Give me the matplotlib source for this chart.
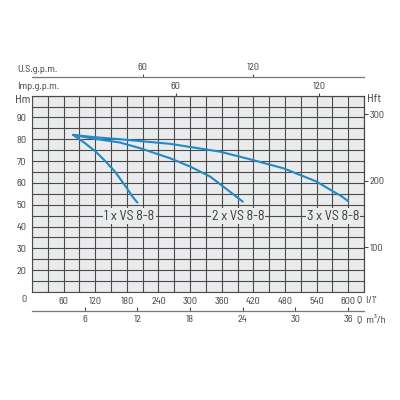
import numpy as np
import matplotlib
matplotlib.use("Agg")
import matplotlib.pyplot as plt

# curve data (Q in l/min, H in m)
q_1x = [78, 100, 120, 139, 157, 177, 192, 200]
h_1x = [82.0, 78.3, 74.5, 70.0, 65.3, 58.6, 53.3, 51.0]
q_2x = [78, 116, 167, 205, 262, 300, 338, 370, 386, 400]
h_2x = [82.0, 80.3, 78.5, 75.9, 71.3, 67.5, 62.9, 57.0, 54.0, 51.4]
q_3x = [78, 116, 167, 262, 357, 414, 477, 540, 572, 588, 600]
h_3x = [82.0, 81.0, 80.0, 77.9, 74.3, 70.8, 66.7, 60.6, 56.0, 53.8, 51.6]
labels = ["1 x VS 8-8", "2 x VS 8-8", "3 x VS 8-8"]
label_q = [185, 391, 571]
label_h = [44.8, 44.8, 44.8]

q_ticks = np.arange(60, 601, 60)
h_ticks = np.arange(20, 91, 10)
ft_ticks = [100, 200, 300]
imp_ticks = [60, 120]
us_ticks = [60, 120]
m3h_ticks = [6, 12, 18, 24, 30, 36]

FT = 3.2808
IMP = 4.546
US = 3.5
M3H = 0.06

blue = "#2389c6"
grid_c = "#4a4a4a"
txt_c = "#3a3a3a"
bg = "#eaebec"
plt.rcParams["font.family"] = ["Barlow Semi Condensed", "DejaVu Sans"]
fs = 7.4

fig = plt.figure(figsize=(4, 4), dpi=100)
ax = fig.add_axes([0.08, 0.27, 0.83, 0.491])
ax.set_facecolor(bg)
ax.set_xlim(0, 630)
ax.set_ylim(10, 100)

ax.set_xticks(q_ticks)
ax.set_xticks(np.arange(0, 631, 30), minor=True)
ax.set_yticks(h_ticks)
ax.set_yticks(np.arange(10, 101, 5), minor=True)
ax.grid(which="both", color=grid_c, lw=0.8)
ax.set_axisbelow(True)
ax.tick_params(which="both", length=0, labelsize=fs, colors=txt_c)
ax.tick_params(axis="x", pad=3.5)
ax.tick_params(axis="y", pad=4)
for s in ax.spines.values():
    s.set_color(grid_c)
    s.set_linewidth(0.8)

for q, h in [(q_1x, h_1x), (q_2x, h_2x), (q_3x, h_3x)]:
    ax.plot(q, h, color=blue, lw=1.5, solid_capstyle="round", solid_joinstyle="round")
for t, q, h in zip(labels, label_q, label_h):
    ax.text(q, h, t, ha="center", va="center", fontsize=10, color=txt_c,
            bbox=dict(facecolor=bg, edgecolor="none", pad=0.8))

# right axis in feet
ax_ft = ax.secondary_yaxis("right", functions=(lambda m: m * FT, lambda f: f / FT))
ax_ft.set_yticks(ft_ticks)
ax_ft.tick_params(length=3, width=0.8, color=grid_c, labelsize=fs, labelcolor=txt_c, pad=1)
ax_ft.spines["right"].set_color(grid_c)

# top axis Imp.g.p.m.
ax_imp = ax.secondary_xaxis("top", functions=(lambda q: q / IMP, lambda g: g * IMP))
ax_imp.set_xticks(imp_ticks)
ax_imp.tick_params(length=2, width=0.8, color=grid_c, labelsize=fs, labelcolor=txt_c, pad=1)
ax_imp.spines["top"].set_color(grid_c)

# top axis U.S.g.p.m.
ax_us = ax.secondary_xaxis(1.097, functions=(lambda q: q / US, lambda g: g * US))
ax_us.set_xticks(us_ticks)
ax_us.tick_params(length=2.5, width=0.8, color=grid_c, labelsize=fs, labelcolor=txt_c, pad=1)
ax_us.spines["top"].set_color("#777777")
ax_us.spines["top"].set_linewidth(0.9)

# bottom axis m3/h
ax_m3 = ax.secondary_xaxis(-0.097, functions=(lambda q: q * M3H, lambda v: v / M3H))
ax_m3.set_xticks(m3h_ticks)
ax_m3.tick_params(direction="in", length=3, width=0.8, color=grid_c, labelsize=fs,
                  labelcolor=txt_c, pad=2.5)
ax_m3.spines["bottom"].set_color("#777777")
ax_m3.spines["bottom"].set_linewidth(0.9)


def px(x, y, s, fsize=fs, **kw):
    fig.text(x / 400, 1 - y / 400, s, fontsize=fsize, color=txt_c, va="center", **kw)


px(17, 69, "U.S.g.p.m.")
px(17, 86.5, "Imp.g.p.m.")
px(30, 100, "Hm", fsize=8.5, ha="right")
px(367, 99, "Hft", fsize=8.5)
px(24, 300, "0", ha="center")
px(357, 300, "Q  l/1'")
px(357, 320, "Q  m\u00b3/h")

fig.savefig("out.png", dpi=100)
